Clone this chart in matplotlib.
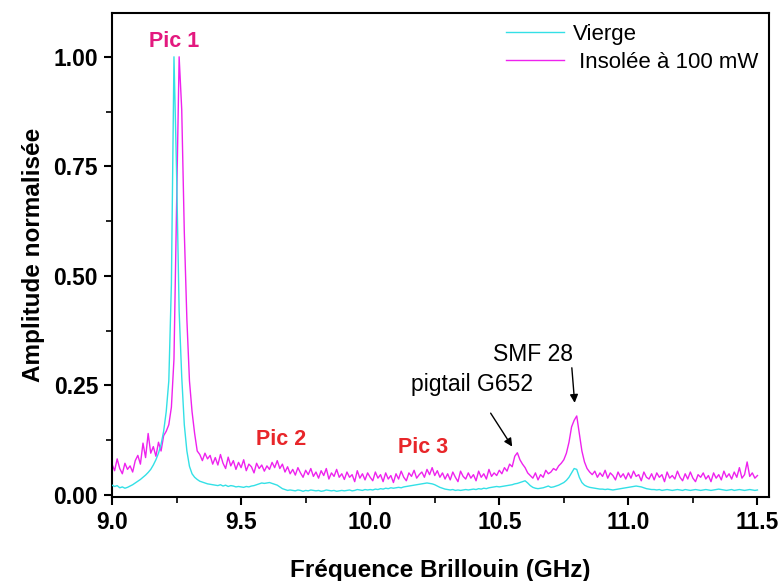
import numpy as np
import matplotlib
matplotlib.use("Agg")
from matplotlib import pyplot as plt
from matplotlib.ticker import MultipleLocator

plt.rcParams['font.family'] = ['Liberation Sans', 'DejaVu Sans']

# fréquence Brillouin (GHz), pas de 0.01 GHz
freq = np.round(np.arange(9.00, 11.505, 0.01), 2)

# fibre vierge
vierge = [
    0.022, 0.019, 0.021, 0.016, 0.018, 0.015, 0.017, 0.020, 0.023, 0.027,
    0.031, 0.035, 0.040, 0.045, 0.051, 0.058, 0.068, 0.080, 0.095, 0.115,
    0.145, 0.190, 0.260, 0.480, 1.000, 0.740, 0.420, 0.270, 0.160, 0.100,
    0.065, 0.048, 0.040, 0.035, 0.031, 0.029, 0.027, 0.025, 0.024, 0.023,
    0.022, 0.021, 0.023, 0.020, 0.022, 0.019, 0.021, 0.020, 0.018, 0.019,
    0.018, 0.017, 0.019, 0.018, 0.020, 0.021, 0.023, 0.025, 0.027, 0.026,
    0.027, 0.028, 0.026, 0.024, 0.022, 0.018, 0.014, 0.012, 0.010, 0.011,
    0.010, 0.009, 0.011, 0.010, 0.008, 0.010, 0.009, 0.011, 0.010, 0.009,
    0.010, 0.008, 0.009, 0.011, 0.010, 0.009, 0.010, 0.008, 0.009, 0.010,
    0.009, 0.010, 0.011, 0.009, 0.010, 0.012, 0.011, 0.010, 0.012, 0.011,
    0.012, 0.011, 0.013, 0.012, 0.014, 0.013, 0.015, 0.014, 0.016, 0.015,
    0.016, 0.017, 0.016, 0.018, 0.019, 0.020, 0.021, 0.022, 0.023, 0.024,
    0.025, 0.026, 0.027, 0.026, 0.025, 0.023, 0.020, 0.017, 0.015, 0.013,
    0.012, 0.011, 0.012, 0.010, 0.011, 0.010, 0.011, 0.012, 0.011, 0.012,
    0.013, 0.012, 0.014, 0.013, 0.015, 0.014, 0.016, 0.017, 0.018, 0.019,
    0.018, 0.019, 0.020, 0.021, 0.022, 0.023, 0.025, 0.026, 0.028, 0.030,
    0.032, 0.027, 0.021, 0.017, 0.015, 0.014, 0.015, 0.016, 0.018, 0.020,
    0.017, 0.018, 0.020, 0.022, 0.025, 0.028, 0.033, 0.040, 0.050, 0.060,
    0.058, 0.040, 0.028, 0.022, 0.019, 0.017, 0.016, 0.015, 0.014, 0.013,
    0.013, 0.012, 0.013, 0.012, 0.011, 0.012, 0.013, 0.014, 0.015, 0.016,
    0.017, 0.018, 0.019, 0.020, 0.019, 0.018, 0.016, 0.014, 0.013, 0.012,
    0.012, 0.011, 0.012, 0.010, 0.011, 0.012, 0.011, 0.010, 0.011, 0.012,
    0.011, 0.010, 0.012, 0.011, 0.010, 0.011, 0.012, 0.011, 0.010, 0.011,
    0.012, 0.011, 0.010, 0.011, 0.012, 0.013, 0.012, 0.011, 0.010, 0.011,
    0.012, 0.010, 0.011, 0.012, 0.011, 0.010, 0.011, 0.012, 0.011, 0.010,
    0.011,
]

# fibre insolée à 100 mW
insolee = [
    0.070, 0.055, 0.082, 0.060, 0.048, 0.072, 0.058, 0.066, 0.052, 0.078,
    0.090, 0.070, 0.118, 0.085, 0.140, 0.095, 0.110, 0.088, 0.120, 0.100,
    0.135, 0.145, 0.160, 0.200, 0.310, 0.650, 1.000, 0.880, 0.600, 0.400,
    0.260, 0.190, 0.140, 0.100, 0.092, 0.078, 0.095, 0.082, 0.090, 0.070,
    0.085, 0.068, 0.092, 0.072, 0.060, 0.086, 0.066, 0.078, 0.058, 0.074,
    0.062, 0.080, 0.055, 0.070, 0.064, 0.050, 0.072, 0.060, 0.068, 0.054,
    0.066, 0.058, 0.074, 0.062, 0.078, 0.060, 0.070, 0.052, 0.064, 0.048,
    0.058, 0.045, 0.062, 0.050, 0.040, 0.056, 0.046, 0.060, 0.042, 0.052,
    0.038, 0.055, 0.044, 0.060, 0.036, 0.050, 0.042, 0.058, 0.040, 0.048,
    0.035, 0.052, 0.040, 0.046, 0.030, 0.055, 0.038, 0.048, 0.034, 0.050,
    0.040, 0.032, 0.052, 0.038, 0.046, 0.030, 0.050, 0.036, 0.044, 0.028,
    0.048, 0.036, 0.054, 0.040, 0.032, 0.050, 0.042, 0.056, 0.038, 0.046,
    0.052, 0.040, 0.058, 0.046, 0.062, 0.044, 0.055, 0.040, 0.050, 0.036,
    0.048, 0.034, 0.052, 0.040, 0.030, 0.054, 0.042, 0.036, 0.050, 0.038,
    0.046, 0.032, 0.054, 0.040, 0.048, 0.036, 0.058, 0.042, 0.050, 0.044,
    0.056, 0.048, 0.062, 0.054, 0.070, 0.064, 0.088, 0.096, 0.080, 0.070,
    0.062, 0.050, 0.044, 0.038, 0.050, 0.034, 0.046, 0.040, 0.056, 0.048,
    0.052, 0.060, 0.056, 0.066, 0.072, 0.080, 0.095, 0.120, 0.155, 0.170,
    0.180, 0.140, 0.100, 0.075, 0.060, 0.052, 0.046, 0.054, 0.040, 0.050,
    0.042, 0.056, 0.038, 0.050, 0.044, 0.034, 0.052, 0.040, 0.048, 0.036,
    0.050, 0.038, 0.054, 0.042, 0.046, 0.032, 0.052, 0.040, 0.036, 0.048,
    0.034, 0.050, 0.040, 0.046, 0.030, 0.052, 0.038, 0.044, 0.036, 0.054,
    0.040, 0.032, 0.048, 0.036, 0.052, 0.038, 0.030, 0.046, 0.040, 0.050,
    0.036, 0.044, 0.030, 0.050, 0.038, 0.046, 0.034, 0.054, 0.040, 0.048,
    0.036, 0.052, 0.040, 0.062, 0.038, 0.046, 0.075, 0.042, 0.050, 0.038,
    0.044,
]

fig = plt.figure(figsize=(7.8, 5.81), dpi=100)
ax = fig.add_axes([0.1436, 0.1446, 0.8424, 0.833])

ax.plot(freq, insolee, color='#ee22ee', lw=1.0, label=' Insolée à 100 mW', zorder=2)
ax.plot(freq, vierge, color='#33e0e6', lw=1.0, label='Vierge', zorder=3)

# légende: Vierge d'abord
h, l = ax.get_legend_handles_labels()
ax.legend(h[::-1], l[::-1], loc='upper right', frameon=False, fontsize=16,
          handlelength=2.6, handletextpad=0.4, borderaxespad=0.1,
          labelspacing=0.3, bbox_to_anchor=(1.0, 1.0))

ax.set_xlim(9.0, 11.545)
ax.set_ylim(-0.005, 1.10)
ax.xaxis.set_minor_locator(MultipleLocator(0.25))
ax.yaxis.set_minor_locator(MultipleLocator(0.125))
ax.set_xticks([9.0, 9.5, 10.0, 10.5, 11.0, 11.5])
ax.set_xticklabels(['9.0', '9.5', '10.0', '10.5', '11.0', '11.5'])
ax.set_yticks([0.0, 0.25, 0.5, 0.75, 1.0])
ax.set_yticklabels(['0.00', '0.25', '0.50', '0.75', '1.00'])
ax.tick_params(which='major', direction='out', length=6, width=1.5,
               labelsize=16.5, pad=4)
ax.tick_params(which='minor', direction='out', length=4, width=1.2)
for t in ax.get_xticklabels() + ax.get_yticklabels():
    t.set_fontweight('bold')
for s in ax.spines.values():
    s.set_linewidth(1.5)

ax.set_xlabel('Fréquence Brillouin (GHz)', fontsize=17.5, fontweight='bold', labelpad=18)
ax.set_ylabel('Amplitude normalisée', fontsize=17.5, fontweight='bold', labelpad=6)

ax.text(9.242, 1.034, 'Pic 1', color='#e3197f', fontsize=15.5, fontweight='bold',
        ha='center', va='center')
ax.text(9.654, 0.126, 'Pic 2', color='#e8262a', fontsize=15.5, fontweight='bold',
        ha='center', va='center')
ax.text(10.204, 0.107, 'Pic 3', color='#e8262a', fontsize=15.5, fontweight='bold',
        ha='center', va='center')

ax.annotate('pigtail G652', xy=(10.55, 0.110), xytext=(10.396, 0.251),
            fontsize=16.5, ha='center', va='center',
            arrowprops=dict(arrowstyle='-|>', color='black', lw=1.0,
                            shrinkA=12, shrinkB=0, mutation_scale=12))
ax.annotate('SMF 28', xy=(10.792, 0.210), xytext=(10.631, 0.320),
            fontsize=16.5, ha='center', va='center')
ax.annotate('', xy=(10.792, 0.210), xytext=(10.781, 0.290),
            arrowprops=dict(arrowstyle='-|>', color='black', lw=1.0,
                            shrinkA=0, shrinkB=0, mutation_scale=12))

fig.savefig('out.png', dpi=100)
